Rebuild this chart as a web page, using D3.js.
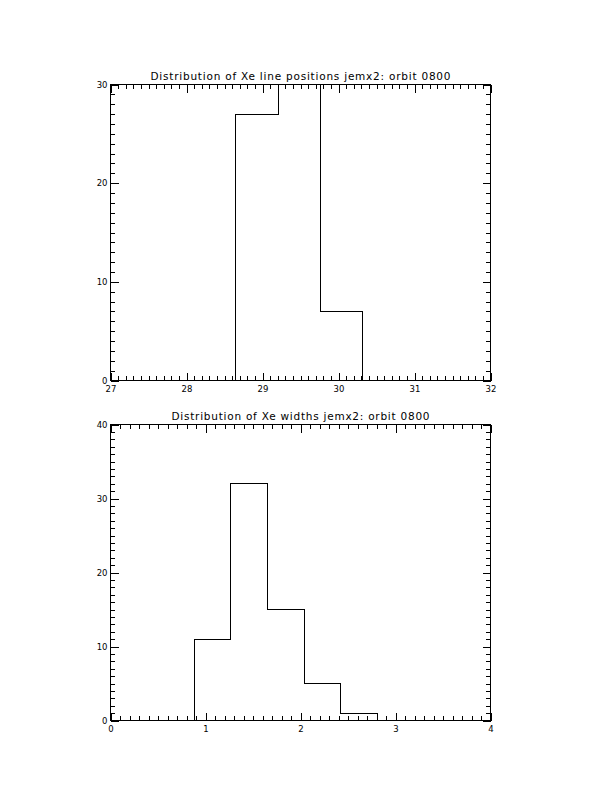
<!DOCTYPE html>
<html>
<head>
<meta charset="utf-8">
<script src="https://cdn.jsdelivr.net/npm/d3@7/dist/d3.min.js"></script>
<style>
  html, body { margin: 0; padding: 0; background: #fff; }
  svg { display: block; }
  text { font-family: "DejaVu Sans", sans-serif; fill: #000; }
</style>
</head>
<body>
<svg id="chart" width="612" height="792"></svg>
<script>
// ---- Data ----
const posTitle = "Distribution of Xe line positions jemx2: orbit 0800";
const posEdges = [28.65, 29.205, 29.76, 30.315];
const posCounts = [27, 30, 7];
const posXTicks = [27, 28, 29, 30, 31, 32];
const posYTicks = [0, 10, 20, 30];

const widTitle = "Distribution of Xe widths jemx2: orbit 0800";
const widEdges = [0.88, 1.267, 1.654, 2.041, 2.426, 2.813];
const widCounts = [11, 32, 15, 5, 1];
const widXTicks = [0, 1, 2, 3, 4];
const widYTicks = [0, 10, 20, 30, 40];

const svg = d3.select("#chart");

function panel(cfg) {
  const { left, right, top, bottom, xDom, yDom, xTicks, yTicks, edges, counts, title, titleLen } = cfg;
  const x = d3.scaleLinear().domain(xDom).range([left, right]);
  const y = d3.scaleLinear().domain(yDom).range([bottom, top]);
  const g = svg.append("g").attr("shape-rendering", "crispEdges");

  const xMinor = d3.range(xDom[0], xDom[1] + 1e-9, (xTicks[1] - xTicks[0]) / 10);
  const yMinor = d3.range(yDom[0], yDom[1] + 1e-9, (yTicks[1] - yTicks[0]) / 10);

  const styleAxis = sel => {
    sel.select(".domain").remove();
    sel.selectAll("line").attr("stroke", "#000").attr("stroke-width", 1);
    sel.selectAll("text").attr("font-size", "8.5px").attr("fill", "#000");
  };

  // bottom
  g.append("g").attr("transform", `translate(0,${bottom})`)
    .call(d3.axisBottom(x).tickValues(xMinor).tickSize(-4.5).tickFormat(""))
    .call(styleAxis);
  g.append("g").attr("transform", `translate(0,${bottom})`)
    .call(d3.axisBottom(x).tickValues(xTicks).tickSize(-8).tickPadding(5).tickFormat(d3.format("d")))
    .call(styleAxis);
  // top
  g.append("g").attr("transform", `translate(0,${top})`)
    .call(d3.axisTop(x).tickValues(xMinor).tickSize(-4.5).tickFormat(""))
    .call(styleAxis);
  g.append("g").attr("transform", `translate(0,${top})`)
    .call(d3.axisTop(x).tickValues(xTicks).tickSize(-8).tickFormat(""))
    .call(styleAxis);
  // left
  g.append("g").attr("transform", `translate(${left},0)`)
    .call(d3.axisLeft(y).tickValues(yMinor).tickSize(-4.5).tickFormat(""))
    .call(styleAxis);
  g.append("g").attr("transform", `translate(${left},0)`)
    .call(d3.axisLeft(y).tickValues(yTicks).tickSize(-8).tickPadding(3).tickFormat(d3.format("d")))
    .call(styleAxis);
  // right
  g.append("g").attr("transform", `translate(${right},0)`)
    .call(d3.axisRight(y).tickValues(yMinor).tickSize(-4.5).tickFormat(""))
    .call(styleAxis);
  g.append("g").attr("transform", `translate(${right},0)`)
    .call(d3.axisRight(y).tickValues(yTicks).tickSize(-8).tickFormat(""))
    .call(styleAxis);

  // frame
  g.append("rect")
    .attr("x", left).attr("y", top)
    .attr("width", right - left).attr("height", bottom - top)
    .attr("fill", "none").attr("stroke", "#000").attr("stroke-width", 1);

  // histogram step outline
  const pts = [[edges[0], 0]];
  counts.forEach((c, i) => { pts.push([edges[i], c]); pts.push([edges[i + 1], c]); });
  pts.push([edges[edges.length - 1], 0]);
  g.append("path")
    .attr("d", d3.line().x(d => Math.round(x(d[0]) - 0.5) + 0.5).y(d => Math.round(y(d[1]) - 0.5) + 0.5)(pts))
    .attr("fill", "none").attr("stroke", "#000").attr("stroke-width", 1);

  // title
  svg.append("text")
    .attr("x", (left + right) / 2).attr("y", top - 5)
    .attr("text-anchor", "middle")
    .attr("font-size", "10.5px")
    .attr("textLength", titleLen).attr("lengthAdjust", "spacing")
    .text(title);
}

panel({ left: 110.5, right: 490.5, top: 84.5, bottom: 380.5,
  xDom: [27, 32], yDom: [0, 30], xTicks: posXTicks, yTicks: posYTicks,
  edges: posEdges, counts: posCounts, title: posTitle, titleLen: 300 });

panel({ left: 110.5, right: 490.5, top: 424.5, bottom: 720.5,
  xDom: [0, 4], yDom: [0, 40], xTicks: widXTicks, yTicks: widYTicks,
  edges: widEdges, counts: widCounts, title: widTitle, titleLen: 258 });
</script>
</body>
</html>
